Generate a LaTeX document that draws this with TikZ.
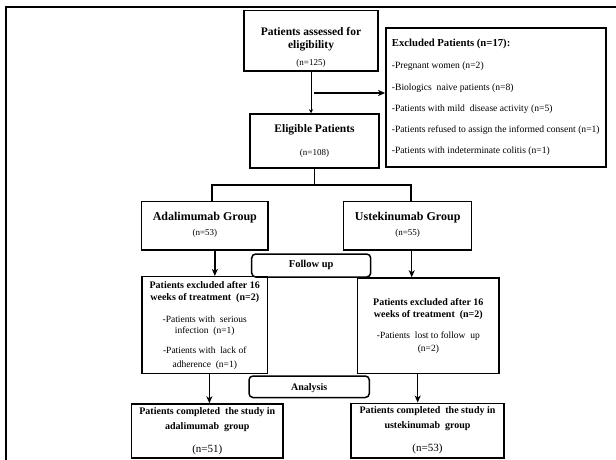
\documentclass[tikz,border=0pt]{standalone}
\usepackage{fontspec}
\setmainfont{Liberation Serif}
\usetikzlibrary{arrows.meta}
\begin{document}
\begin{tikzpicture}[x=1pt,y=-1pt,
  box/.style={draw, line width=1.5pt, inner sep=0pt, rectangle},
  rbox/.style={box, rounded corners=4pt},
  tb/.style={font=\fontsize{11.5}{13}\selectfont\bfseries, inner sep=0pt, anchor=mid},
  tg/.style={font=\fontsize{12}{14}\selectfont\bfseries, inner sep=0pt, anchor=mid},
  tl/.style={font=\fontsize{10}{12}\selectfont\bfseries, inner sep=0pt, anchor=mid},
  tn/.style={font=\fontsize{9}{11}\selectfont, inner sep=0pt, anchor=mid},
  tr/.style={font=\fontsize{9.5}{11}\selectfont, inner sep=0pt, anchor=mid},
  tc/.style={font=\fontsize{11}{13}\selectfont, inner sep=0pt, anchor=mid},
  ti/.style={font=\fontsize{9.6}{11}\selectfont, inner sep=0pt, anchor=mid west},
  thin arr/.style={-{Stealth[length=4pt,width=4pt]}, line width=0.8pt},
  arr/.style={-{Stealth[length=7pt,width=6pt,inset=2pt]}, line width=1.4pt},
  ln/.style={line width=1.5pt}
]
\useasboundingbox (0,0) rectangle (616,460);
% outer frame
\draw[line width=1.6pt] (6,462) -- (6,7.3) -- (618,7.3);

% boxes
\node[box, minimum width=134pt, minimum height=60.3pt] (assess) at (311,40.85) {};
\node[box, line width=1.8pt, minimum width=220pt, minimum height=139pt] (excl) at (496,97.8) {};
\node[box, minimum width=129pt, minimum height=54pt] (elig) at (314.5,141) {};
\node[box, minimum width=126.3pt, minimum height=48.3pt] (adal) at (204.85,225.85) {};
\node[box, minimum width=128pt, minimum height=48.3pt] (ust) at (407.7,225.85) {};
\node[rbox, minimum width=119pt, minimum height=23pt] (follow) at (311.2,265.5) {};
\node[box, minimum width=125.5pt, minimum height=96.8pt] (lex) at (204.75,325.1) {};
\node[box, minimum width=141.3pt, minimum height=95.5pt] (rex) at (428.35,325.75) {};
\node[rbox, minimum width=120.3pt, minimum height=21.5pt] (anal) at (309.15,386.75) {};
\node[box, minimum width=151.4pt, minimum height=54pt] (bl) at (207.3,431) {};
\node[box, minimum width=153pt, minimum height=54.7pt] (br) at (427.5,430.65) {};

% texts
\node[tb] (a1) at (311,33) {Patients assessed for};
\node[tb] (a2) at (311,46.7) {eligibility};
\node[tn] (a3) at (311,63.3) {(n=125)};

\node[tb, font=\fontsize{10.7}{13}\selectfont\bfseries, anchor=mid west] (e0) at (391.7,44.7) {Excluded Patients (n=17):};
\node[ti] (e1) at (391.7,66.7) {-Pregnant women (n=2)};
\node[ti] (e2) at (391.7,88) {-Biologics\ \ naive patients (n=8)};
\node[ti] (e3) at (391.7,109) {-Patients with mild\ \ disease activity (n=5)};
\node[ti] (e4) at (391.7,130.7) {-Patients refused to assign the informed consent (n=1)};
\node[ti] (e5) at (391.7,151) {-Patients with indeterminate colitis (n=1)};

\node[tb] (g1) at (314.5,130) {Eligible Patients};
\node[tn] (g2) at (314.5,153.3) {(n=108)};

\node[tg] (ad1) at (204.85,218.3) {Adalimumab Group};
\node[tn] (ad2) at (204.85,233.3) {(n=53)};
\node[tg] (us1) at (407.7,218.3) {Ustekinumab Group};
\node[tn] (us2) at (407.7,233.3) {(n=55)};

\node[tb, font=\fontsize{10.5}{12}\selectfont\bfseries] (f1) at (311.2,265) {Follow up};

\node[tl] (l1) at (204.75,286) {Patients excluded after 16};
\node[tl] (l2) at (204.75,298.3) {weeks of treatment\ \ (n=2)};
\node[tr] (l3) at (204.75,320) {-Patients with\ \ serious};
\node[tr] (l4) at (204.75,331.7) {infection\ \ (n=1)};
\node[tr] (l5) at (204.75,351.7) {-Patients with\ \ lack of};
\node[tr] (l6) at (204.75,365) {adherence\ \ (n=1)};

\node[tl] (r1) at (428.35,303.3) {Patients excluded after 16};
\node[tl] (r2) at (428.35,315.7) {weeks of treatment\ \ (n=2)};
\node[tr] (r3) at (428.35,336) {-Patients\ \ lost to follow\ \ up};
\node[tr] (r4) at (428.35,349) {(n=2)};

\node[tl] (an1) at (309.15,388.3) {Analysis};

\node[tl] (b1) at (207.3,412.7) {Patients completed\ \ the study in};
\node[tl] (b2) at (207.3,427) {adalimumab\ \ group};
\node[tc] (b3) at (207.3,450.7) {(n=51)};
\node[tl] (c1) at (427.5,411) {Patients completed\ \ the study in};
\node[tl] (c2) at (427.5,426.7) {ustekinumab\ \ group};
\node[tc] (c3) at (427.5,449.3) {(n=53)};

% connectors
\draw[thin arr] (assess.south) -- (assess.south |- elig.north);
\coordinate (hb) at (314,93);
\draw[arr] (hb) -- (hb -| excl.west);
\coordinate (bar) at (316,185);
\draw[ln] (elig.south) -- (elig.south |- bar);
\draw[ln] ([xshift=7pt]adal.north) |- (bar) -| ([xshift=3.3pt]ust.north);
\draw[arr] ([xshift=10pt]adal.south) -- ([xshift=10pt]adal.south |- lex.north);
\draw[arr] ([xshift=4pt]ust.south) -- ([xshift=4pt]ust.south |- rex.north);
\draw[arr] ([xshift=4.65pt]lex.south) -- ([xshift=4.65pt]lex.south |- bl.north);
\draw[arr] ([xshift=-10.65pt]rex.south) -- ([xshift=-10.65pt]rex.south |- br.north);
\end{tikzpicture}
\end{document}
